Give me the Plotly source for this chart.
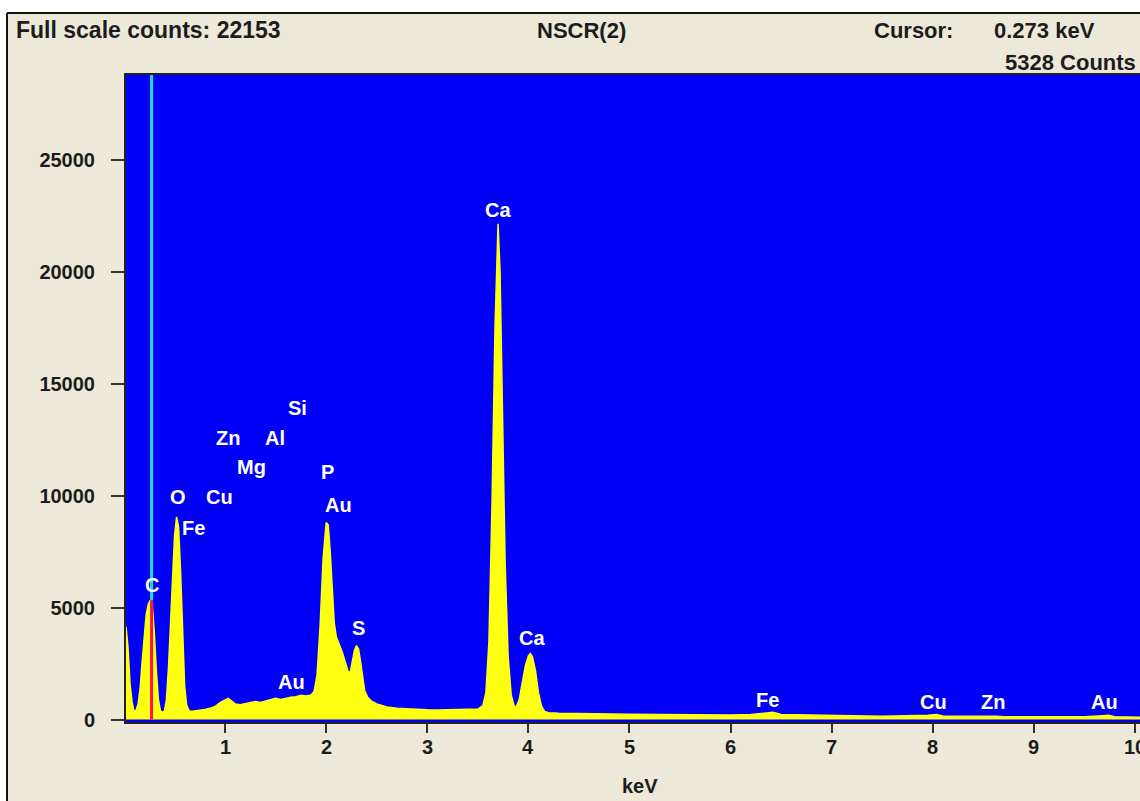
import plotly.graph_objects as go

# ---------------- data ----------------
energy_kev = [0.02, 0.04, 0.06, 0.08, 0.10, 0.12, 0.14, 0.16, 0.18, 0.20, 0.22, 0.24, 0.26, 0.28, 0.30,
              0.32, 0.34, 0.36, 0.38, 0.40, 0.42, 0.44, 0.46, 0.48, 0.50, 0.52, 0.54, 0.56, 0.58, 0.60,
              0.62, 0.64, 0.66, 0.70, 0.75, 0.80, 0.85, 0.90, 0.95, 1.00, 1.03, 1.06, 1.10, 1.15, 1.20,
              1.25, 1.30, 1.35, 1.40, 1.45, 1.50, 1.55, 1.60, 1.65, 1.70, 1.75, 1.80, 1.85, 1.88, 1.91,
              1.94, 1.97, 2.00, 2.02, 2.04, 2.06, 2.08, 2.10, 2.13, 2.16, 2.19, 2.22, 2.24, 2.26, 2.28,
              2.30, 2.32, 2.34, 2.36, 2.38, 2.41, 2.45, 2.50, 2.55, 2.60, 2.70, 2.80, 2.90, 3.00, 3.10,
              3.20, 3.30, 3.40, 3.50, 3.55, 3.58, 3.61, 3.64, 3.67, 3.69, 3.70, 3.72, 3.74, 3.77, 3.80,
              3.83, 3.86, 3.88, 3.91, 3.94, 3.97, 4.00, 4.02, 4.04, 4.07, 4.10, 4.13, 4.16, 4.20, 4.30,
              4.50, 4.70, 5.00, 5.30, 5.60, 6.00, 6.20, 6.35, 6.42, 6.50, 6.70, 6.90, 7.10, 7.50, 7.95,
              8.04, 8.10, 8.55, 8.63, 8.70, 9.00, 9.50, 9.68, 9.74, 9.80, 10.10]
counts = [4150, 3200, 1600, 800, 340, 420, 700, 1400, 2600, 3800, 4700, 5150, 5330, 5100, 3900,
          2200, 900, 400, 320, 380, 900, 2300, 4300, 6500, 8200, 9050, 8600, 6600, 3800, 1500,
          650, 420, 360, 380, 410, 450, 500, 580, 760, 900, 950, 850, 700, 660, 700,
          760, 800, 760, 820, 880, 950, 900, 960, 1000, 1020, 1080, 1050, 1100, 1250, 2000,
          4200, 7200, 8800, 8700, 7500, 5600, 4300, 3700, 3350, 3000, 2550, 2100, 2150, 2600, 3100,
          3300, 3150, 2600, 1800, 1300, 1000, 820, 700, 620, 560, 500, 470, 450, 440, 430,
          440, 420, 430, 470, 620, 1200, 3500, 9500, 17500, 21500, 22153, 20000, 14000, 7000, 2800,
          1100, 600, 560, 900, 1600, 2400, 2850, 2950, 2800, 2200, 1200, 600, 360, 300, 280,
          260, 250, 240, 230, 215, 205, 225, 290, 320, 230, 220, 180, 170, 150, 190,
          230, 160, 180, 150, 130, 130, 120, 170, 190, 120, 100]

peak_labels = ["C", "O", "Cu", "Fe", "Zn", "Al", "Mg", "Si", "P", "Au", "S", "Au", "Ca", "Ca",
               "Fe", "Cu", "Zn", "Au"]
peak_label_x = [0.278, 0.535, 0.941, 0.683, 1.03, 1.495, 1.257, 1.712, 2.009, 2.118, 2.316, 1.653,
                3.70, 4.036, 6.37, 8.012, 8.596, 9.694]
peak_label_y = [6027, 9955, 9955, 8571, 12589, 12589, 11295, 13929, 11071, 9598, 4107, 1696,
                22768, 3661, 893, 804, 804, 804]

cursor_kev = 0.273
cursor_counts = 5328
full_scale = 22153

y_ticks = [0, 5000, 10000, 15000, 20000, 25000]
y_tick_text = ["0", "5000", "10000", "15000", "20000", "25000"]
x_ticks = [1, 2, 3, 4, 5, 6, 7, 8, 9, 10]
x_tick_text = ["1", "2", "3", "4", "5", "6", "7", "8", "9", "10"]

# ---------------- figure ----------------
W, H = 1140, 801
L, R, T, B = 126, 0, 75, 79
PW, PH = W - L - R, H - T - B


def px(x):
    return (x - L) / PW


def py(y):
    return (H - B - y) / PH


BEIGE = "#ECE9D8"
BLUE = "#0000F6"
YELLOW = "#FFFF10"
DARK = "#1c1c1c"
FONT = "Liberation Sans, Arial, sans-serif"

fig = go.Figure()
fig.add_trace(go.Scatter(x=energy_kev, y=counts, mode="lines", fill="tozeroy",
                         line=dict(color=YELLOW, width=1.5), fillcolor=YELLOW,
                         hoverinfo="skip", showlegend=False))
# cursor: red inside spectrum, cyan above
fig.add_trace(go.Scatter(x=[cursor_kev, cursor_kev], y=[0, cursor_counts], mode="lines",
                         line=dict(color="#FF1050", width=3), showlegend=False, hoverinfo="skip"))
fig.add_trace(go.Scatter(x=[cursor_kev, cursor_kev], y=[cursor_counts, 30000], mode="lines",
                         line=dict(color="#20E0C0", width=3), showlegend=False, hoverinfo="skip"))

annotations = []
for t, x, y in zip(peak_labels, peak_label_x, peak_label_y):
    annotations.append(dict(x=x, y=y, xref="x", yref="y", text="<b>%s</b>" % t, showarrow=False,
                            font=dict(family=FONT, size=20, color="white"),
                            xanchor="center", yanchor="middle"))

# x tick labels drawn as annotations so the last one ("10") may run past the page edge
for v, t in zip(x_ticks, x_tick_text):
    annotations.append(dict(x=v, y=py(747), xref="x", yref="paper", text="<b>%s</b>" % t,
                            showarrow=False, font=dict(family=FONT, size=20, color=DARK),
                            xanchor="center", yanchor="middle"))

header = [
    ("Full scale counts: %d" % full_scale, 14, 30, "left", 23),
    ("NSCR(2)", 581, 30, "center", 22),
    ("Cursor:", 872, 30, "left", 22),
    ("%.3f keV" % cursor_kev, 992, 30, "left", 22),
    ("%d Counts" % cursor_counts, 1003, 62, "left", 22),
]
for t, x, y, anc, sz in header:
    annotations.append(dict(x=px(x), y=py(y), xref="paper", yref="paper", text="<b>%s</b>" % t,
                            showarrow=False, font=dict(family=FONT, size=sz, color=DARK),
                            xanchor=anc, yanchor="middle"))
annotations.append(dict(x=px(640), y=py(786), xref="paper", yref="paper", text="<b>keV</b>",
                        showarrow=False, font=dict(family=FONT, size=20, color=DARK),
                        xanchor="center", yanchor="middle"))

shapes = [
    # white outer strips
    dict(type="rect", xref="paper", yref="paper", x0=px(0), x1=px(W), y0=py(13), y1=py(0),
         fillcolor="white", line=dict(width=0), layer="below"),
    dict(type="rect", xref="paper", yref="paper", x0=px(0), x1=px(7), y0=py(H), y1=py(0),
         fillcolor="white", line=dict(width=0), layer="below"),
    # window border
    dict(type="line", xref="paper", yref="paper", x0=px(7), x1=px(W), y0=py(13), y1=py(13),
         line=dict(color="#111111", width=2)),
    dict(type="line", xref="paper", yref="paper", x0=px(7), x1=px(7), y0=py(13), y1=py(H),
         line=dict(color="#111111", width=2)),
]

fig.update_layout(
    width=W, height=H,
    margin=dict(l=L, r=R, t=T, b=B, pad=0),
    paper_bgcolor=BEIGE, plot_bgcolor=BLUE,
    showlegend=False,
    annotations=annotations, shapes=shapes,
    xaxis=dict(range=[0.02, 10.05], tickmode="array", tickvals=x_ticks, ticktext=x_tick_text,
               showticklabels=False, automargin=False,
               ticks="outside", ticklen=9, tickwidth=2, tickcolor="#333333",
               showgrid=False, zeroline=False, showline=True, linecolor="#222222", linewidth=2,
               mirror=True),
    yaxis=dict(range=[-110, 28800], tickmode="array", tickvals=y_ticks, ticktext=y_tick_text,
               ticks="outside", ticklen=13, tickwidth=2, tickcolor="#333333",
               ticklabelstandoff=12, automargin=False,
               showgrid=False, zeroline=False, showline=True, linecolor="#222222", linewidth=2,
               tickfont=dict(family=FONT, size=20, color=DARK, weight="bold")),
)

fig.write_html("out.html", config={"displayModeBar": False},
               post_script="document.body.style.margin='0px';document.body.style.padding='0px';")
